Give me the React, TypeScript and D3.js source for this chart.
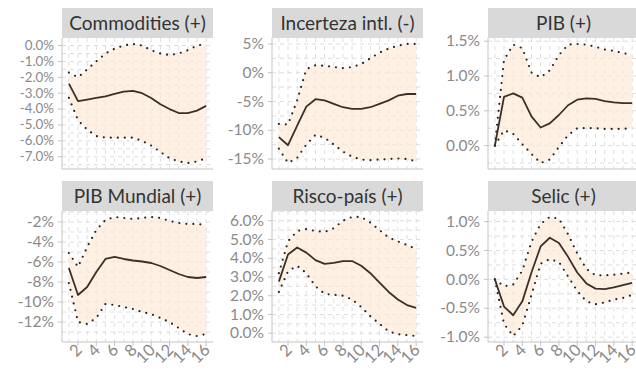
import React, { useRef, useEffect } from 'react';
import * as d3 from 'd3';

// horizons (months)
const horizons = [1, 2, 3, 4, 5, 6, 7, 8, 9, 10, 11, 12, 13, 14, 15, 16];
const xTicks = [2, 4, 6, 8, 10, 12, 14, 16];

const titles = ['Commodities (+)', 'Incerteza intl. (-)', 'PIB (+)', 'PIB Mundial (+)', 'Risco-país (+)', 'Selic (+)'];

// responses in %
const commMid = [-2.4, -3.5, -3.4, -3.3, -3.2, -3.05, -2.9, -2.85, -3.0, -3.3, -3.7, -4.0, -4.25, -4.25, -4.1, -3.8];
const commLo = [-3.3, -4.7, -5.3, -5.7, -5.8, -5.8, -5.8, -5.8, -6.0, -6.3, -6.7, -7.1, -7.3, -7.4, -7.3, -7.1];
const commHi = [-1.7, -2.0, -1.5, -1.0, -0.5, -0.2, 0.0, 0.1, 0.0, -0.3, -0.5, -0.6, -0.5, -0.3, 0.0, 0.1];

const incMid = [-11.2, -12.6, -9.2, -5.9, -4.6, -4.8, -5.4, -6.0, -6.3, -6.3, -6.0, -5.4, -4.8, -4.0, -3.7, -3.7];
const incLo = [-13.2, -15.7, -14.8, -12.5, -10.8, -11.3, -12.5, -13.7, -14.6, -15.1, -15.2, -15.1, -15.0, -14.9, -15.0, -15.4];
const incHi = [-8.9, -9.0, -4.8, 0.6, 1.3, 1.2, 1.0, 0.8, 1.0, 1.5, 2.5, 3.5, 4.2, 4.7, 5.0, 5.0];

const pibMid = [0.0, 0.7, 0.75, 0.69, 0.42, 0.26, 0.32, 0.44, 0.58, 0.66, 0.68, 0.67, 0.64, 0.62, 0.61, 0.61];
const pibLo = [0.0, 0.22, 0.17, 0.02, -0.12, -0.25, -0.2, -0.02, 0.15, 0.25, 0.25, 0.25, 0.24, 0.24, 0.24, 0.25];
const pibHi = [0.0, 1.23, 1.45, 1.4, 1.05, 0.98, 1.08, 1.3, 1.45, 1.46, 1.45, 1.42, 1.38, 1.36, 1.33, 1.3];

const mundMid = [-6.6, -9.3, -8.5, -7.0, -5.7, -5.5, -5.7, -5.85, -5.95, -6.1, -6.4, -6.8, -7.2, -7.5, -7.6, -7.5];
const mundLo = [-8.1, -12.0, -12.2, -11.6, -10.2, -10.3, -10.5, -10.7, -11.0, -11.2, -11.6, -12.0, -12.6, -13.2, -13.4, -13.2];
const mundHi = [-5.1, -6.5, -4.5, -2.8, -1.8, -1.5, -1.6, -1.7, -1.6, -1.5, -1.6, -1.9, -2.1, -2.2, -2.2, -2.3];

const riscoMid = [2.75, 4.2, 4.57, 4.3, 3.9, 3.7, 3.75, 3.85, 3.85, 3.6, 3.2, 2.7, 2.2, 1.8, 1.5, 1.35];
const riscoLo = [2.2, 3.3, 3.6, 3.2, 2.5, 2.1, 2.05, 2.0, 1.8, 1.4, 0.9, 0.5, 0.1, -0.05, -0.1, -0.15];
const riscoHi = [3.2, 4.9, 5.45, 5.55, 5.45, 5.4, 5.6, 6.0, 6.2, 6.2, 5.9, 5.5, 5.1, 4.9, 4.7, 4.5];

const selicMid = [0.0, -0.47, -0.62, -0.38, 0.12, 0.57, 0.72, 0.63, 0.39, 0.12, -0.07, -0.16, -0.17, -0.14, -0.1, -0.06];
const selicLo = [0.0, -0.77, -0.98, -0.8, -0.27, 0.27, 0.35, 0.3, 0.05, -0.2, -0.38, -0.43, -0.4, -0.35, -0.32, -0.27];
const selicHi = [0.0, -0.12, -0.09, 0.15, 0.65, 0.96, 1.08, 1.05, 0.78, 0.45, 0.18, 0.07, 0.07, 0.08, 0.1, 0.12];

// y tick labels per panel
const commTicks = [0, -1, -2, -3, -4, -5, -6, -7];
const incTicks = [5, 0, -5, -10, -15];
const pibTicks = [0, 0.5, 1.0, 1.5];
const mundTicks = [-2, -4, -6, -8, -10, -12];
const riscoTicks = [0, 1, 2, 3, 4, 5, 6];
const selicTicks = [1.0, 0.5, 0, -0.5, -1.0];

const App = () => {
  const ref = useRef<SVGSVGElement>(null);

  useEffect(() => {
    const svg = d3.select(ref.current);
    svg.selectAll('*').remove();

    const panels = [
      { title: titles[0], mid: commMid, lo: commLo, hi: commHi, ticks: commTicks, dec: 1 },
      { title: titles[1], mid: incMid, lo: incLo, hi: incHi, ticks: incTicks, dec: 0 },
      { title: titles[2], mid: pibMid, lo: pibLo, hi: pibHi, ticks: pibTicks, dec: 1 },
      { title: titles[3], mid: mundMid, lo: mundLo, hi: mundHi, ticks: mundTicks, dec: 0 },
      { title: titles[4], mid: riscoMid, lo: riscoLo, hi: riscoHi, ticks: riscoTicks, dec: 1 },
      { title: titles[5], mid: selicMid, lo: selicLo, hi: selicHi, ticks: selicTicks, dec: 1 },
    ];

    const colX = [62, 272, 488];
    const rowY = [8, 181];
    const pw = 151;
    const stripH = 30;
    const ph = 131;
    const font = 'Lato, sans-serif';
    const grey = '#8a8a8a';

    panels.forEach((p, i) => {
      const col = i % 3;
      const row = Math.floor(i / 3);
      const x0 = colX[col];
      const top = rowY[row];
      const g = svg.append('g').attr('transform', `translate(${x0},${top + stripH})`);

      // strip
      svg.append('rect')
        .attr('x', x0).attr('y', top).attr('width', pw).attr('height', stripH)
        .attr('fill', '#d9d9d9');
      svg.append('text')
        .attr('x', x0 + pw / 2).attr('y', top + stripH / 2 + 7)
        .attr('text-anchor', 'middle')
        .attr('font-family', font).attr('font-size', 19).attr('fill', '#333')
        .text(p.title);

      // x padded like ggplot (0.75 each side)
      const x = d3.scaleLinear().domain([0.25, 16.75]).range([0, pw]);

      const ext = d3.extent([...p.lo, ...p.hi, ...p.mid]) as [number, number];
      const pad = (ext[1] - ext[0]) * 0.05;
      const y = d3.scaleLinear().domain([ext[0] - pad, ext[1] + pad]).range([ph, 0]);

      // grid
      const step = Math.abs(p.ticks[1] - p.ticks[0]);
      const [ymin, ymax] = y.domain();
      const gridY: number[] = [];
      for (let v = Math.ceil(ymin / (step / 2)) * (step / 2); v <= ymax; v += step / 2) gridY.push(v);
      g.selectAll('.gy').data(gridY).enter().append('line')
        .attr('x1', 0).attr('x2', pw)
        .attr('y1', (d) => y(d)).attr('y2', (d) => y(d))
        .attr('stroke', '#dedede').attr('stroke-width', 1)
        .attr('stroke-dasharray', '4,4');
      g.selectAll('.gx').data(horizons).enter().append('line')
        .attr('x1', (d) => x(d)).attr('x2', (d) => x(d))
        .attr('y1', 0).attr('y2', ph)
        .attr('stroke', '#dedede').attr('stroke-width', 1)
        .attr('stroke-dasharray', '4,4');

      // band
      const area = d3.area<number>()
        .x((d, k) => x(horizons[k]))
        .y0((d, k) => y(p.lo[k]))
        .y1((d) => y(d));
      g.append('path').datum(p.hi).attr('d', area).attr('fill', '#fde8d3').attr('opacity', 0.65);

      const line = d3.line<number>()
        .x((d, k) => x(horizons[k]))
        .y((d) => y(d));
      [p.lo, p.hi].forEach((s) => {
        g.append('path').datum(s).attr('d', line)
          .attr('fill', 'none').attr('stroke', '#2a2420').attr('stroke-width', 2.2)
          .attr('stroke-linecap', 'round').attr('stroke-dasharray', '0,7');
      });
      g.append('path').datum(p.mid).attr('d', line)
        .attr('fill', 'none').attr('stroke', '#3b3029').attr('stroke-width', 1.8)
        .attr('stroke-linejoin', 'round');

      // axes
      g.append('line').attr('x1', 0).attr('x2', 0).attr('y1', 0).attr('y2', ph)
        .attr('stroke', '#c4c4c4');
      g.append('line').attr('x1', 0).attr('x2', pw).attr('y1', ph).attr('y2', ph)
        .attr('stroke', '#c4c4c4');
      g.selectAll('.yt').data(p.ticks).enter().append('line')
        .attr('x1', -4).attr('x2', 0)
        .attr('y1', (d) => y(d)).attr('y2', (d) => y(d))
        .attr('stroke', '#c4c4c4');
      // shrink labels where ticks are tightly packed
      const gap = Math.abs(y(p.ticks[0]) - y(p.ticks[1]));
      const fs = Math.min(15.5, gap * 0.84);
      g.selectAll('.yl').data(p.ticks).enter().append('text')
        .attr('x', -8).attr('y', (d) => y(d) + fs * 0.33)
        .attr('text-anchor', 'end')
        .attr('font-family', font).attr('font-size', fs).attr('fill', grey)
        .text((d) => `${d.toFixed(p.dec)}%`);

      if (row === 1) {
        g.selectAll('.xt').data(xTicks).enter().append('line')
          .attr('x1', (d) => x(d)).attr('x2', (d) => x(d))
          .attr('y1', ph).attr('y2', ph + 4)
          .attr('stroke', '#c4c4c4');
        g.selectAll('.xl').data(xTicks).enter().append('text')
          .attr('transform', (d) => `translate(${x(d) + 5},${ph + 9}) rotate(-45)`)
          .attr('text-anchor', 'end')
          .attr('font-family', font).attr('font-size', 16.5).attr('fill', grey)
          .text((d) => d);
      }
    });
  }, []);

  return (
    <svg ref={ref} width={636} height={374}
      style={{ position: 'absolute', left: 0, top: 0, background: '#fff' }} />
  );
};

export default App;
